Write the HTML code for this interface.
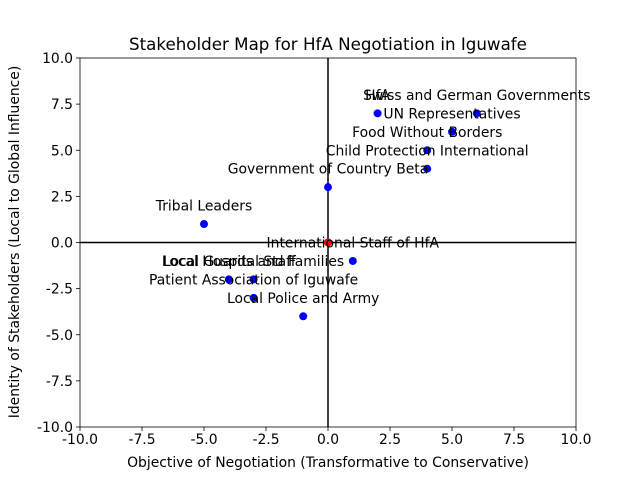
<!DOCTYPE html>
<html><head><meta charset="utf-8"><style>body{margin:0;background:#fff}svg{display:block;font-family:"DejaVu Sans","Liberation Sans",sans-serif}</style></head>
<body>
<svg id="chart" width="640" height="480"></svg>
<script>
const xs = [2, 6, 5, 4, 4, 0, -5, 0, 1, -4, -3, -3, -1];
const ys = [7, 7, 6, 5, 4, 3, 1, 0, -1, -2, -2, -3, -4];
const names = ["HfA", "Swiss and German Governments", "UN Representatives", "Food Without Borders", "Child Protection International", "Government of Country Beta", "Tribal Leaders", "", "International Staff of HfA", "Local Hospital Staff", "Local Guards and Families", "Patient Association of Iguwafe", "Local Police and Army"];
const colors = ["blue","blue","blue","blue","blue","blue","blue","red","blue","blue","blue","blue","blue"];
const xTicks = [-10, -7.5, -5, -2.5, 0, 2.5, 5, 7.5, 10];
const yTicks = [-10, -7.5, -5, -2.5, 0, 2.5, 5, 7.5, 10];
const L=80,R=576,T=58,B=427;
const sx=v=>L+(v+10)/20*(R-L);
const sy=v=>B-(v+10)/20*(B-T);
const svg=document.getElementById('chart');
const NS='http://www.w3.org/2000/svg';
function mk(tag,attrs,txt){const e=document.createElementNS(NS,tag);for(const k in attrs)e.setAttribute(k,attrs[k]);if(txt!==undefined)e.textContent=txt;svg.appendChild(e);return e;}
let e;
e=mk('text',{x:328,y:50,'text-anchor':'middle','font-size':16.7},'Stakeholder Map for HfA Negotiation in Iguwafe');


e=mk('line',{x1:L,x2:R,y1:sy(0),y2:sy(0),stroke:'#000','stroke-width':1.5});


e=mk('line',{x1:sx(0),x2:sx(0),y1:T,y2:B,stroke:'#000','stroke-width':1.5});


xTicks.forEach(t=>{
  mk('line',{x1:sx(t),x2:sx(t),y1:B,y2:B+4,stroke:'#000','stroke-width':0.8});
  e=mk('text',{x:sx(t),y:B+17,'text-anchor':'middle','font-size':13.9},t.toFixed(1));
  
  
});
yTicks.forEach(t=>{
  mk('line',{x1:L-4,x2:L,y1:sy(t),y2:sy(t),stroke:'#000','stroke-width':0.8});
  e=mk('text',{x:L-7,y:sy(t)+5,'text-anchor':'end','font-size':13.9},t.toFixed(1));
  
  
});
for(let i=0;i<xs.length;i++){
  e=mk('circle',{cx:sx(xs[i]),cy:sy(ys[i]),r:4,fill:colors[i]});
  
  
  if(names[i]){
    e=mk('text',{x:sx(xs[i]),y:sy(ys[i]+1)+5,'text-anchor':'middle','font-size':13.9},names[i]);
    
    
  }
}
e=mk('rect',{x:L,y:T,width:R-L,height:B-T,fill:'none',stroke:'#000','stroke-width':0.8});


e=mk('text',{x:328,y:467,'text-anchor':'middle','font-size':13.9},'Objective of Negotiation (Transformative to Conservative)');


e=mk('text',{x:0,y:0,'text-anchor':'middle','font-size':13.9,transform:'translate(19,242) rotate(-90)'},'Identity of Stakeholders (Local to Global Influence)');


</script>
</body></html>
